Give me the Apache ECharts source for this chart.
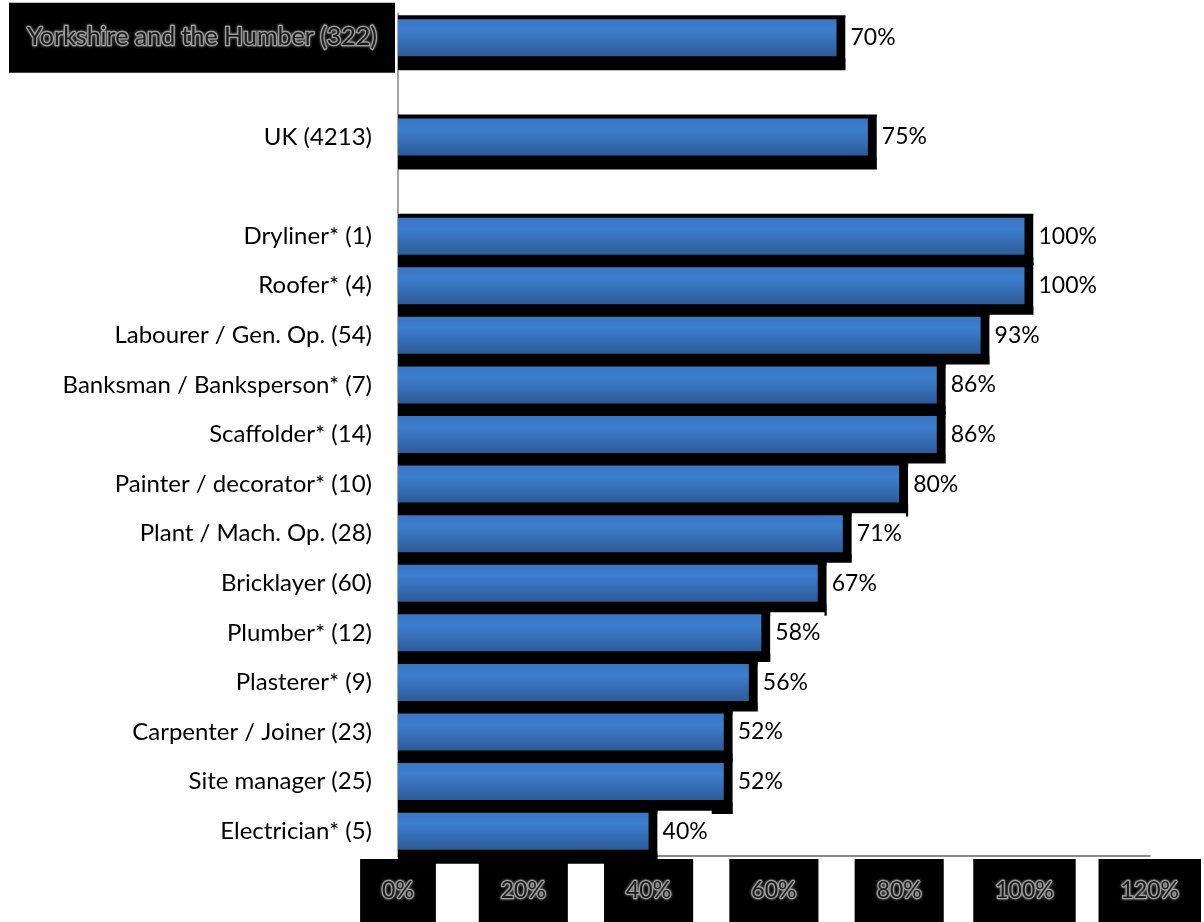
<!DOCTYPE html>
<html>
<head>
<meta charset="utf-8">
<script src="https://cdn.jsdelivr.net/npm/echarts@6/dist/echarts.min.js"></script>
<style>
  html, body { margin: 0; padding: 0; background: #fff; }
  #chart { width: 1204px; height: 922px; }
</style>
</head>
<body>
<div id="chart"></div>
<script>
// region rows (shown above the trades, each followed by an empty row)
var regionCats = ['Yorkshire and the Humber (322)', 'UK (4213)'];
var regionVals = [70, 75];

// trades
var tradeCats = [
  'Dryliner* (1)', 'Roofer* (4)', 'Labourer / Gen. Op. (54)',
  'Banksman / Banksperson* (7)', 'Scaffolder* (14)', 'Painter / decorator* (10)',
  'Plant / Mach. Op. (28)', 'Bricklayer (60)', 'Plumber* (12)', 'Plasterer* (9)',
  'Carpenter / Joiner (23)', 'Site manager (25)', 'Electrician* (5)'
];
var tradeVals = [100, 100, 93, 86, 86, 80, 71, 67, 58, 56, 52, 52, 40];

var xTicks = [0, 20, 40, 60, 80, 100, 120];
var highlightCat = 'Yorkshire and the Humber (322)';

// build category list with gap rows
var cats = [regionCats[0], ' ', regionCats[1], '  '].concat(tradeCats);
var rows = [];
rows.push([regionVals[0], 0]);
rows.push([regionVals[1], 2]);
tradeVals.forEach(function (v, i) { rows.push([v, i + 4]); });

var outlined = {
  color: '#1c1c1c',
  textBorderColor: '#a0a0a0',
  textBorderWidth: 2.5,
  textShadowColor: 'rgba(150,150,150,0.8)',
  textShadowBlur: 3,
  fontFamily: 'Lato',
  fontSize: 23
};

var blueFill = new echarts.graphic.LinearGradient(0, 0, 0, 1, [
  { offset: 0, color: '#3a76c4' },
  { offset: 0.3, color: '#3d7ecf' },
  { offset: 1, color: '#2c5b98' }
]);

var chart = echarts.init(document.getElementById('chart'));
chart.setOption({
  animation: false,
  grid: { left: 398, right: 48, top: 13, bottom: 61, containLabel: false },
  xAxis: {
    type: 'value',
    min: xTicks[0],
    max: xTicks[xTicks.length - 1],
    interval: 20,
    splitLine: { show: false },
    axisTick: { show: false },
    axisLine: { show: true, lineStyle: { color: '#8a8a8a', width: 2 } },
    axisLabel: Object.assign({
      formatter: '{value}%',
      backgroundColor: '#000',
      padding: [20, 22, 20, 22],
      margin: 3,
      showMinLabel: true,
      showMaxLabel: true
    }, outlined)
  },
  yAxis: {
    type: 'category',
    inverse: true,
    data: cats,
    axisTick: { show: false },
    axisLine: { show: true, lineStyle: { color: '#8a8a8a', width: 1.5 } },
    axisLabel: {
      margin: 3,
      interval: 0,
      formatter: function (v) {
        if (v === highlightCat) return '{hl|' + v + '}';
        return '{n|' + v + '}';
      },
      rich: {
        n: { color: '#000', fontFamily: 'Lato', fontSize: 24, padding: [0, 23, 0, 0] },
        hl: Object.assign({}, outlined, {
          fontSize: 25,
          backgroundColor: '#000',
          padding: [22, 18, 23, 18]
        })
      }
    }
  },
  series: [{
    type: 'custom',
    data: rows,
    encode: { x: 0, y: 1 },
    clip: false,
    renderItem: function (params, api) {
      var v = api.value(0);
      var idx = api.value(1);
      var p0 = api.coord([0, idx]);
      var p1 = api.coord([v, idx]);
      var cy = p0[1];
      var h = 37;
      var top = cy - h / 2;
      return {
        type: 'group',
        children: [
          {
            type: 'rect',
            shape: { x: p0[0], y: top - 4, width: p1[0] - p0[0] + 9, height: h + 18 },
            style: { fill: '#000' }
          },
          {
            type: 'rect',
            shape: { x: p0[0], y: top, width: p1[0] - p0[0], height: h },
            style: { fill: blueFill }
          },
          {
            type: 'text',
            x: p1[0] + 9,
            y: cy,
            style: {
              text: v + '%',
              fill: '#000',
              font: '23px Lato',
              verticalAlign: 'middle',
              align: 'left',
              backgroundColor: '#fff',
              padding: [9, 4, 9, 5]
            }
          }
        ]
      };
    }
  }]
});
</script>
</body>
</html>
